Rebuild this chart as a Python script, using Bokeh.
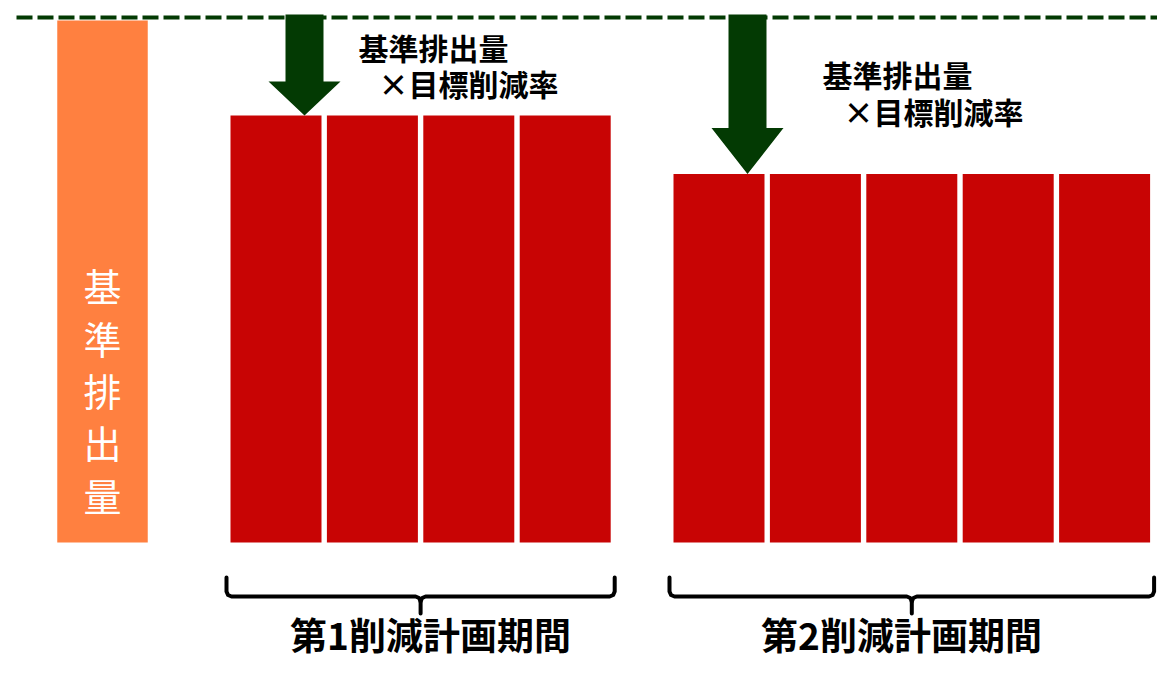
from bokeh.plotting import figure
from bokeh.models import Range1d
from bokeh.core.properties import value
from bokeh.embed import file_html
from bokeh.resources import INLINE

# ---- data ----
base_label = "基準排出量"
base_value = 100.0
period_labels = ["第1削減計画期間", "第2削減計画期間"]
period_years = [4, 5]              # number of yearly bars per period
period_values = [81.8, 70.6]       # allowed emissions as % of base
note_line1 = "基準排出量"
note_line2 = "×目標削減率"

# ---- layout helpers (picture pixel space) ----
W, H = 1157, 661
Y0 = 542.0          # pixel of value 0
SCALE = 5.22        # pixels per value unit
def py(px):
    return (Y0 - px) / SCALE

FONT = value("Noto Sans CJK JP")
RED = "#C80404"
ORANGE = "#FF8040"
GREEN = "#033A03"

p = figure(width=W, height=H, output_backend="svg", toolbar_location=None,
           x_range=Range1d(0, W), y_range=Range1d(py(H), py(0)),
           min_border=0, outline_line_color=None, background_fill_color="white")
p.axis.visible = False
p.grid.visible = False

# base bar
p.vbar(x=[102], top=[base_value], bottom=0, width=90.5, fill_color=ORANGE, line_color=None)
chars = list(base_label)
p.text(x=[102] * len(chars), y=[py(389 + (i - 2) * 52.4) for i in range(len(chars))],
       text=chars, text_font=FONT, text_font_size="38px", text_color="white",
       text_align="center", text_baseline="middle")

# dashed base line
p.line(x=[16, W], y=[py(17), py(17)], line_color=GREEN, line_width=4, line_dash="16 5")

starts = [275.5, 718.5]
step = 96.4
barw = 91
head_len = [34, 46]
note_pos = [(358, 46, 378, 82.5), (822, 73.5, 843, 110)]
label_x = [430, 901]

for g in range(2):
    xs = [starts[g] + i * step for i in range(period_years[g])]
    v = period_values[g]
    p.vbar(x=xs, top=[v] * len(xs), bottom=0, width=barw, fill_color=RED, line_color=None)

    # arrow
    cx = xs[0] + 28.5
    tip = v
    hy = v + head_len[g] / SCALE
    top = py(14)
    p.patch(x=[cx - 19, cx + 19, cx + 19, cx + 36, cx, cx - 36, cx - 19],
            y=[top, top, hy, hy, tip, hy, hy], fill_color=GREEN, line_color=None)

    # note
    x1, y1, x2, y2 = note_pos[g]
    p.text(x=[x1, x2], y=[py(y1), py(y2)], text=[note_line1, note_line2],
           text_font=FONT, text_font_size="30px", text_font_style="bold",
           text_color="black", text_align="left", text_baseline="middle")

    # brace
    L = xs[0] - barw / 2 - 4
    R = xs[-1] + barw / 2 + 4
    C = (L + R) / 2
    bx = [L, L, L + 1.5, L + 5, C - 5, C - 1.5, C, C]
    by = [577, 591, 594.5, 596, 596, 597.5, 601, 613]
    bx2 = [C, C + 1.5, C + 5, R - 5, R - 1.5, R, R]
    by2 = [601, 597.5, 596, 596, 594.5, 591, 577]
    p.multi_line(xs=[bx, bx2], ys=[[py(b) for b in by], [py(b) for b in by2]],
                 line_color="black", line_width=4, line_join="round", line_cap="round")

    p.text(x=[label_x[g]], y=[py(633)], text=[period_labels[g]],
           text_font=FONT, text_font_size="37px", text_font_style="bold",
           text_color="black", text_align="center", text_baseline="middle")

open("out.html", "w").write(file_html(p, INLINE))
